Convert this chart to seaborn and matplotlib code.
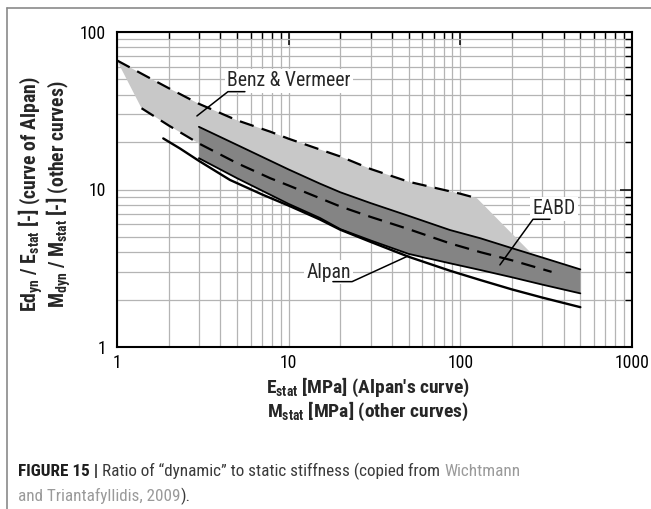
import matplotlib
matplotlib.use("Agg")
import numpy as np
import pandas as pd
import seaborn as sns
import matplotlib.pyplot as plt
from matplotlib import font_manager as fm
from matplotlib.lines import Line2D
from matplotlib.ticker import FixedLocator, FixedFormatter, LogLocator, NullFormatter

# ---------------- data ----------------
benz_upper_x = [1, 1.5, 2, 3, 5, 7.8, 10, 20, 30, 50, 100, 125]
benz_upper_y = [66, 52, 44, 35, 27.5, 23.3, 21, 16.2, 13.5, 11.2, 9.4, 8.8]
benz_lower_x = [1.39, 2, 3, 5, 7.8, 10, 20, 30, 50, 87, 131, 200, 340]
benz_lower_y = [32.8, 25.5, 19.6, 14.7, 11.8, 10.6, 7.8, 6.7, 5.6, 4.55, 4.0, 3.55, 3.0]
benz_tail_x = [125, 265]          # right edge of the light area
benz_tail_y = [8.8, 3.84]

eabd_x = [3, 5, 10, 15.2, 20, 30, 50, 87, 131, 200, 300, 500]
eabd_upper = [25, 19.2, 13.4, 10.9, 9.6, 8.2, 6.8, 5.53, 4.9, 4.24, 3.7, 3.11]
eabd_lower = [15.8, 11.8, 8.1, 6.6, 5.6, 4.75, 3.9, 3.4, 3.08, 2.77, 2.49, 2.19]

alpan_x = [1.86, 2.33, 3, 4.55, 7, 10, 15.2, 20, 30, 50, 87, 131, 200, 300, 500]
alpan_y = [21.1, 18.2, 15.2, 11.5, 9.3, 7.9, 6.45, 5.55, 4.65, 3.74, 3.05, 2.66, 2.32, 2.06, 1.79]

x_ticks = [1, 10, 100, 1000]
x_tick_labels = ["1", "10", "100", "1000"]
y_ticks = [1, 10, 100]
y_tick_labels = ["1", "10", "100"]

# ---------------- fonts ----------------
def have(name):
    try:
        fm.findfont(fm.FontProperties(family=name), fallback_to_default=False)
        return True
    except Exception:
        return False

NARROW = None
for cand in ["Liberation Sans Narrow", "Arial Narrow", "Roboto Condensed",
             "Noto Sans Condensed", "Open Sans Condensed"]:
    if have(cand):
        NARROW = cand
        break
STRETCH = "normal"
if NARROW is None:
    conds = [f for f in fm.fontManager.ttflist
             if str(f.stretch).lower() in ("condensed", "semi-condensed", "75", "87")
             and any(k in f.name for k in ("Noto Sans", "Roboto", "Open Sans", "DejaVu Sans", "Liberation"))
             and "Mono" not in f.name and "CJK" not in f.name]
    if conds:
        NARROW = conds[0].name
        STRETCH = conds[0].stretch
    else:
        NARROW = "Liberation Sans"

sns.set_style("white")
plt.rcParams["font.family"] = [NARROW, "Liberation Sans", "DejaVu Sans"]
plt.rcParams["font.stretch"] = STRETCH
plt.rcParams["mathtext.default"] = "regular"

fig = plt.figure(figsize=(6.51, 5.09), dpi=100)
W, H = 651, 509
renderer = fig.canvas.get_renderer()


def fit_size(s, target_w, base=14.0, **kw):
    t = fig.text(0, 0, s, fontsize=base, **kw)
    w = t.get_window_extent(renderer).width
    t.remove()
    return base * target_w / w


ax = fig.add_axes([117 / W, 1 - 347 / H, (632 - 117) / W, (347 - 32) / H])
ax.set_xscale("log")
ax.set_yscale("log")
ax.set_xlim(1, 1000)
ax.set_ylim(1, 100)

LIGHT = "#c8c8c8"
DARK = "#848484"

# light grey Benz & Vermeer area
poly_x = benz_upper_x + benz_tail_x[1:] + benz_lower_x[::-1]
poly_y = benz_upper_y + benz_tail_y[1:] + benz_lower_y[::-1]
ax.fill(poly_x, poly_y, color=LIGHT, lw=0, zorder=2)

# dark EABD band
ax.fill(eabd_x + eabd_x[::-1], eabd_upper + eabd_lower[::-1], color=DARK, lw=0, zorder=3)

df_bu = pd.DataFrame({"x": benz_upper_x, "y": benz_upper_y})
df_bl = pd.DataFrame({"x": benz_lower_x, "y": benz_lower_y})
df_eu = pd.DataFrame({"x": eabd_x, "y": eabd_upper})
df_el = pd.DataFrame({"x": eabd_x, "y": eabd_lower})
df_al = pd.DataFrame({"x": alpan_x, "y": alpan_y})

sns.lineplot(data=df_eu, x="x", y="y", ax=ax, color="black", lw=1.3, sort=False, estimator=None, zorder=5)
sns.lineplot(data=df_el, x="x", y="y", ax=ax, color="black", lw=1.3, sort=False, estimator=None, zorder=5)
sns.lineplot(data=df_al, x="x", y="y", ax=ax, color="black", lw=1.7, sort=False, estimator=None, zorder=5)
for d in (df_bu, df_bl):
    sns.lineplot(data=d, x="x", y="y", ax=ax, color="black", lw=1.6, sort=False,
                 estimator=None, zorder=6)
for line in ax.lines[-2:]:
    line.set_dashes((6.5, 3.8))

# grid and axes styling
tick_fs = fit_size("1000", 35)
ax.set_axisbelow(True)
ax.grid(True, which="both", color="#b4b4b4", lw=0.9, zorder=0)
ax.xaxis.set_major_locator(FixedLocator(x_ticks))
ax.xaxis.set_major_formatter(FixedFormatter(x_tick_labels))
ax.yaxis.set_major_locator(FixedLocator(y_ticks))
ax.yaxis.set_major_formatter(FixedFormatter(y_tick_labels))
ax.xaxis.set_minor_locator(LogLocator(base=10, subs=np.arange(2, 10)))
ax.yaxis.set_minor_locator(LogLocator(base=10, subs=np.arange(2, 10)))
ax.xaxis.set_minor_formatter(NullFormatter())
ax.yaxis.set_minor_formatter(NullFormatter())
ax.tick_params(which="both", direction="in", top=True, right=True, colors="black")
ax.tick_params(which="major", length=9, width=1.1, labelsize=tick_fs, pad=5)
ax.tick_params(which="minor", length=5, width=1.0)
ax.tick_params(axis="y", which="major", pad=8)
for s in ax.spines.values():
    s.set_linewidth(1.5)
    s.set_color("black")
    s.set_zorder(10)
ax.set_xlabel("")
ax.set_ylabel("")

# annotations with leader lines
bbox = dict(boxstyle="square,pad=0.12", fc="white", ec="none")
ann_fs = fit_size("Benz & Vermeer", 125)
ax.text(4.37, 48.9, "Benz & Vermeer", fontsize=ann_fs, ha="left", va="center", bbox=bbox, zorder=7)
ax.plot([2.92, 4.43, 5.56], [29.3, 41.8, 41.8], color="black", lw=1.1, zorder=8)
ax.text(264, 7.52, "EABD", fontsize=ann_fs, ha="left", va="center", bbox=bbox, zorder=7)
ax.plot([170, 265, 333], [3.32, 6.47, 6.47], color="black", lw=1.1, zorder=8)
ax.text(12.7, 2.99, "Alpan", fontsize=ann_fs, ha="left", va="center", bbox=bbox, zorder=7)
ax.plot([18.1, 23.4, 49.5], [2.6, 2.6, 3.78], color="black", lw=1.1, zorder=8)

# axis labels
xl1 = "E$_{stat}$ [MPa] (Alpan's curve)"
xl2 = "M$_{stat}$ [MPa] (other curves)"
yl1 = "Ed$_{yn}$ / E$_{stat}$ [-] (curve of Alpan)"
yl2 = "M$_{dyn}$ / M$_{stat}$ [-] (other curves)"
xlab_fs = fit_size(xl1, 204, fontweight="bold")
ylab_fs = fit_size(yl1, 236, fontweight="bold")
fig.text(368 / W, 1 - 387 / H, xl1, fontsize=xlab_fs, fontweight="bold", ha="center", va="center")
fig.text(368 / W, 1 - 411 / H, xl2, fontsize=xlab_fs, fontweight="bold", ha="center", va="center")
fig.text(31 / W, 1 - 194 / H, yl1, fontsize=ylab_fs, fontweight="bold", ha="center",
         va="center", rotation=90)
fig.text(59 / W, 1 - 194 / H, yl2, fontsize=ylab_fs, fontweight="bold", ha="center",
         va="center", rotation=90)

# frame lines of the figure box
fig.add_artist(Line2D([7 / W, 1.0], [1 - 8 / H, 1 - 8 / H], transform=fig.transFigure,
                      color="#8a8a8a", lw=1.2))
fig.add_artist(Line2D([7 / W, 7 / W], [0, 1 - 8 / H], transform=fig.transFigure,
                      color="#8a8a8a", lw=1.2))

# caption
cap_a = "FIGURE 15 | "
cap_b = "Ratio of \u201cdynamic\u201d to static stiffness (copied from "
cap_c = "Wichtmann"
wa = fit_size(cap_a, 100, fontweight="bold") / 100
wb = fit_size(cap_b + cap_c, 100) / 100
# font size so that whole first line is ~505 px wide
cap_fs = 1.0 / (1.0 / wa + 1.0 / wb) * 505
t1 = fig.text(18 / W, 1 - 471 / H, cap_a, fontsize=cap_fs, fontweight="bold",
              color="#1e1e1e", ha="left", va="center")
t2 = ax.annotate(cap_b, xy=(1, 0.5), xycoords=t1, va="center", ha="left", fontsize=cap_fs,
                 color="#3a3a3a", annotation_clip=False)
t3 = ax.annotate(cap_c, xy=(1, 0.5), xycoords=t2, va="center", ha="left",
                 fontsize=cap_fs, color="#9a9a9a", annotation_clip=False)
t4 = fig.text(18 / W, 1 - 496 / H, "and Triantafyllidis, 2009", fontsize=cap_fs,
              color="#9a9a9a", ha="left", va="center")
ax.annotate(").", xy=(1, 0.5), xycoords=t4, va="center", ha="left", fontsize=cap_fs,
            color="#3a3a3a", annotation_clip=False)

fig.savefig("out.png", dpi=100)
